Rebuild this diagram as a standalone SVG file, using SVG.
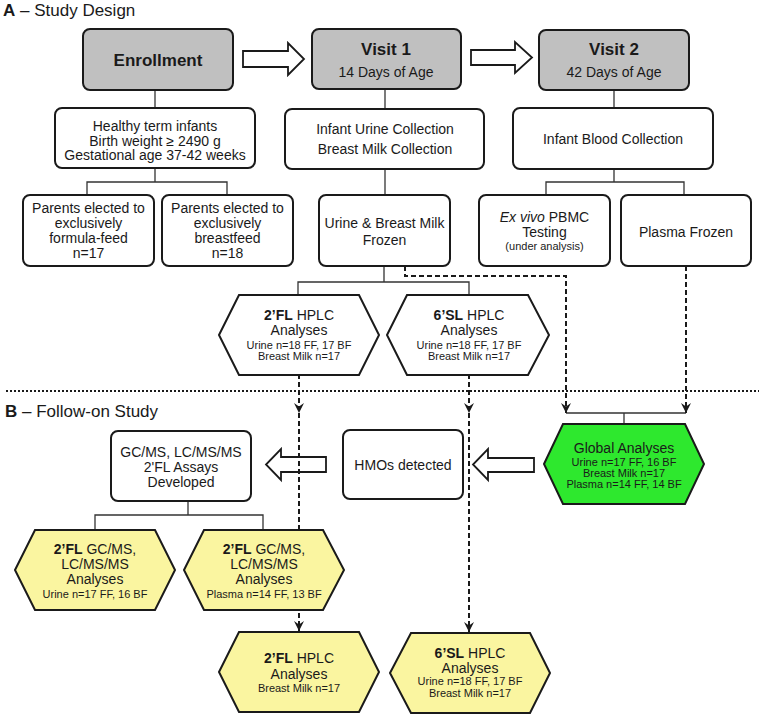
<svg xmlns="http://www.w3.org/2000/svg" width="759" height="717" viewBox="0 0 759 717">
<defs>
<style>
text{font-family:"Liberation Sans",Arial,sans-serif;fill:#1a1a1a;text-anchor:middle}
.t{font-size:14px}
.s{font-size:11px}
.h{font-size:17px;font-weight:bold}
.b{font-weight:bold}
.lbl{font-size:17px;text-anchor:start}
.box{fill:#fff;stroke:#1a1a1a;stroke-width:2}
.hdr{fill:#c0c0c0;stroke:#1a1a1a;stroke-width:2}
.yel{fill:#faf5a0;stroke:#1a1a1a;stroke-width:2}
.grn{fill:#2ee82e;stroke:#1a1a1a;stroke-width:2}
.ln{fill:none;stroke:#333;stroke-width:1.3}
.dash{fill:none;stroke:#1a1a1a;stroke-width:2;stroke-dasharray:5 3}
.big{fill:#fff;stroke:#1a1a1a;stroke-width:1.8}
</style>
<marker id="ah" markerUnits="userSpaceOnUse" viewBox="0 0 10 10" refX="10" refY="5" markerWidth="10" markerHeight="10" orient="auto">
<path d="M0,0 L10,5 L0,10 L3.5,5 z" fill="#1a1a1a"/>
</marker>
</defs>
<rect width="759" height="717" fill="#fff"/>

<text class="lbl" x="3" y="16"><tspan font-weight="bold">A</tspan> – Study Design</text>
<line x1="6" y1="391" x2="759" y2="391" stroke="#1a1a1a" stroke-width="2" stroke-dasharray="2 2"/>
<text class="lbl" x="5" y="417"><tspan font-weight="bold">B</tspan> – Follow-on Study</text>

<g id="connectors">
<path class="big" d="M243,51 H288 V43 L304,59 L288,75 V67 H243 Z"/>
<path class="big" d="M471,50 H515 V42 L532,57.5 L515,73 V65 H471 Z"/>
<path class="big" d="M326,457 H281 V449 L266,464.5 L281,480 V472 H326 Z"/>
<path class="big" d="M534,458 H488 V449 L473,464.5 L488,480 V472 H534 Z"/>
<path class="ln" d="M155,90 V108"/>
<path class="ln" d="M155,168 V182 M87,195 V182 H227 V195"/>
<path class="ln" d="M385,89 V109"/>
<path class="ln" d="M385,169 V195"/>
<path class="ln" d="M614,90 V108"/>
<path class="ln" d="M614,169 V182 M546,195 V182 H684 V195"/>
<path class="ln" d="M384,266 V282 M298,295 V282 H469 V295"/>
<path class="ln" d="M566,413 H686 M624,413 V424"/>
<path class="ln" d="M188,501 V515 M95,530 V515 H263 V530"/>
<path class="dash" d="M405,266 V276 H566 V413" marker-end="url(#ah)"/>
<path class="dash" d="M686,266 V413" marker-end="url(#ah)"/>
<path class="dash" d="M299,374 V413" marker-end="url(#ah)"/>
<path class="dash" d="M299,413 V631" marker-end="url(#ah)"/>
<path class="dash" d="M469,374 V413" marker-end="url(#ah)"/>
<path class="dash" d="M469,413 V632" marker-end="url(#ah)"/>
</g>

<g id="enrollment">
<rect class="hdr" x="83" y="29" width="150" height="61" rx="7"/>
<text class="h" x="158" y="66">Enrollment</text>
</g>
<g id="visit1">
<rect class="hdr" x="312" y="29" width="149" height="60" rx="7"/>
<text class="h" x="386" y="55">Visit 1</text>
<text class="t" x="386" y="77">14 Days of Age</text>
</g>
<g id="visit2">
<rect class="hdr" x="539" y="30" width="150" height="60" rx="7"/>
<text class="h" x="614" y="55">Visit 2</text>
<text class="t" x="614" y="77">42 Days of Age</text>
</g>
<g id="healthy">
<rect class="box" x="55" y="108" width="200" height="60" rx="7"/>
<text class="t" x="155" y="131">Healthy term infants</text>
<text class="t" x="155" y="145.5">Birth weight ≥ 2490 g</text>
<text class="t" x="155" y="160">Gestational age 37-42 weeks</text>
</g>
<g id="urine-collection">
<rect class="box" x="285" y="109" width="199" height="60" rx="7"/>
<text class="t" x="385" y="134">Infant Urine Collection</text>
<text class="t" x="385" y="154">Breast Milk Collection</text>
</g>
<g id="blood-collection">
<rect class="box" x="513" y="108" width="200" height="61" rx="7"/>
<text class="t" x="613" y="144">Infant Blood Collection</text>
</g>
<g id="formula">
<rect class="box" x="23" y="195" width="131" height="71" rx="7"/>
<text class="t" x="88.5" y="213">Parents elected to</text>
<text class="t" x="88.5" y="228">exclusively</text>
<text class="t" x="88.5" y="243">formula-feed</text>
<text class="t" x="88.5" y="257.5">n=17</text>
</g>
<g id="breastfeed">
<rect class="box" x="162" y="195" width="131" height="71" rx="7"/>
<text class="t" x="227.5" y="213">Parents elected to</text>
<text class="t" x="227.5" y="228">exclusively</text>
<text class="t" x="227.5" y="243">breastfeed</text>
<text class="t" x="227.5" y="257.5">n=18</text>
</g>
<g id="frozen">
<rect class="box" x="319" y="195" width="131" height="71" rx="7"/>
<text class="t" x="384.5" y="228">Urine &amp; Breast Milk</text>
<text class="t" x="384.5" y="245">Frozen</text>
</g>
<g id="pbmc">
<rect class="box" x="479" y="195" width="131" height="71" rx="7"/>
<text class="t" x="544.5" y="222"><tspan font-style="italic">Ex vivo</tspan> PBMC</text>
<text class="t" x="544.5" y="236.5">Testing</text>
<text class="s" x="544.5" y="250">(under analysis)</text>
</g>
<g id="plasma">
<rect class="box" x="621" y="195" width="130" height="71" rx="7"/>
<text class="t" x="686" y="237">Plasma Frozen</text>
</g>
<g id="fl-hplc">
<polygon class="box" points="219,335 239,295 359,295 379,335 359,375 239,375"/>
<text class="t" x="299" y="320"><tspan class="b">2’FL</tspan> HPLC</text>
<text class="t" x="299" y="335">Analyses</text>
<text class="s" x="299" y="348.5">Urine n=18 FF, 17 BF</text>
<text class="s" x="299" y="360">Breast Milk n=17</text>
</g>
<g id="sl-hplc">
<polygon class="box" points="387,335 407,295 528,295 549,335 528,375 407,375"/>
<text class="t" x="469" y="320"><tspan class="b">6’SL</tspan> HPLC</text>
<text class="t" x="469" y="335">Analyses</text>
<text class="s" x="469" y="348.5">Urine n=18 FF, 17 BF</text>
<text class="s" x="469" y="360">Breast Milk n=17</text>
</g>
<g id="gcms-assays">
<rect class="box" x="111" y="431" width="140" height="70" rx="7"/>
<text class="t" x="181" y="457">GC/MS, LC/MS/MS</text>
<text class="t" x="181" y="472">2'FL Assays</text>
<text class="t" x="181" y="486.5">Developed</text>
</g>
<g id="hmos">
<rect class="box" x="343" y="430" width="120" height="69" rx="7"/>
<text class="t" x="403" y="470">HMOs detected</text>
</g>
<g id="global">
<polygon class="grn" points="544,464 563,424 685,424 704,464 685,504 563,504"/>
<text class="t" x="624" y="453">Global Analyses</text>
<text class="s" x="624" y="465.5">Urine n=17 FF, 16 BF</text>
<text class="s" x="624" y="476.5">Breast Milk n=17</text>
<text class="s" x="624" y="487.5">Plasma n=14 FF, 14 BF</text>
</g>
<g id="gcms-urine">
<polygon class="yel" points="15,570 35,530 155,530 175,570 155,610 35,610"/>
<text class="t" x="95" y="554">
<tspan class="b">2’FL</tspan> GC/MS,</text>
<text class="t" x="95" y="569">LC/MS/MS</text>
<text class="t" x="95" y="584">Analyses</text>
<text class="s" x="95" y="598">Urine n=17 FF, 16 BF</text>
</g>
<g id="gcms-plasma">
<polygon class="yel" points="184,570 204,530 323,530 344,570 323,610 204,610"/>
<text class="t" x="264" y="554"><tspan class="b">2’FL</tspan> GC/MS,</text>
<text class="t" x="264" y="569">LC/MS/MS</text>
<text class="t" x="264" y="584">Analyses</text>
<text class="s" x="264" y="598">Plasma n=14 FF, 13 BF</text>
</g>
<g id="fl-hplc-milk">
<polygon class="yel" points="219,672 239,632 359,632 379,672 359,712 239,712"/>
<text class="t" x="299" y="663"><tspan class="b">2’FL</tspan> HPLC</text>
<text class="t" x="299" y="678.5">Analyses</text>
<text class="s" x="299" y="692">Breast Milk n=17</text>
</g>
<g id="sl-hplc-2">
<polygon class="yel" points="390,673 411,633 530,633 550,673 530,713 411,713"/>
<text class="t" x="470" y="658"><tspan class="b">6’SL</tspan> HPLC</text>
<text class="t" x="470" y="672.5">Analyses</text>
<text class="s" x="470" y="685">Urine n=18 FF, 17 BF</text>
<text class="s" x="470" y="697">Breast Milk n=17</text>
</g>
</svg>
